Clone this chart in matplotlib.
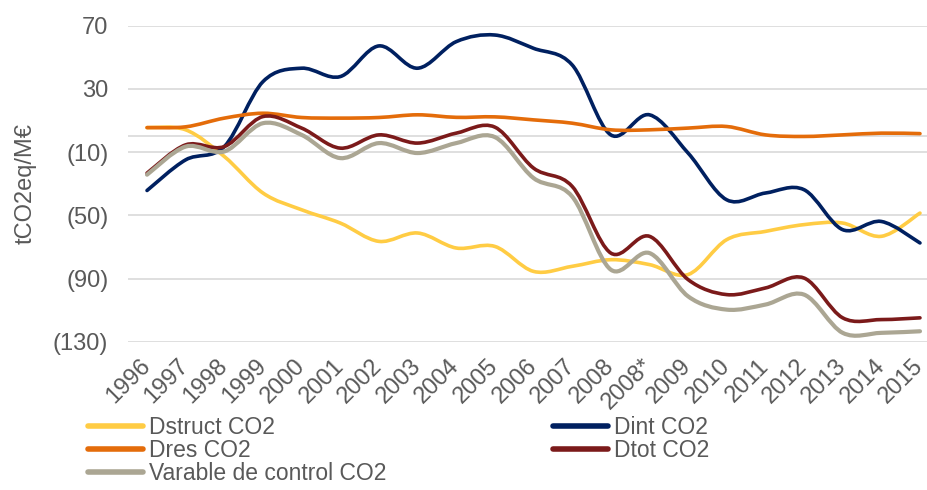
import numpy as np
import matplotlib
matplotlib.use("Agg")
import matplotlib.pyplot as plt
from matplotlib.path import Path
from matplotlib.patches import PathPatch
from matplotlib.lines import Line2D

plt.rcParams['font.family'] = ['Liberation Sans', 'DejaVu Sans']

# categories on the x axis
years = ["1996", "1997", "1998", "1999", "2000", "2001", "2002", "2003", "2004",
         "2005", "2006", "2007", "2008", "2008*", "2009", "2010", "2011", "2012",
         "2013", "2014", "2015"]

# values (tCO2eq/M€)
dstruct = [5.5, 4.1, -12.8, -35.9, -46.5, -54.9, -66.5, -61.2, -70.7, -69.7, -85.5,
           -82.3, -78.1, -81.2, -87.5, -65.4, -60.2, -55.9, -54.9, -63.3, -48.6]
dint = [-34.3, -14.9, -6.5, 34.6, 43.1, 37.8, 57.2, 43.1, 59.9, 64.1, 55.7,
        45.2, 0.9, 13.6, -10.6, -40.2, -35.9, -33.8, -59.1, -53.9, -67.5]
dres = [5.5, 6.0, 11.5, 14.6, 11.9, 11.5, 11.9, 13.6, 12.0, 12.3, 10.4,
        8.3, 4.1, 4.1, 5.2, 6.2, 0.9, -0.1, 0.9, 2.0, 1.7]
dtot = [-23.3, -5.4, -6.5, 12.5, 5.2, -7.5, 0.9, -4.3, 2.0, 5.8, -20.1,
        -31.7, -73.9, -63.3, -90.7, -100.2, -96.0, -89.7, -114.9, -116.0, -114.9]
control = [-24.3, -6.5, -9.6, 8.3, 0.9, -13.8, -4.3, -10.6, -4.3, -0.5, -26.4,
           -38.1, -84.4, -73.9, -101.3, -109.7, -106.5, -100.2, -124.4, -124.4, -123.4]

series = [
    ("Dstruct CO2", dstruct, "#FFCC44", 2.6),
    ("Dint CO2", dint, "#002060", 2.6),
    ("Dres CO2", dres, "#E46C0A", 2.6),
    ("Dtot CO2", dtot, "#7B1A1A", 2.6),
    ("Varable de control CO2", control, "#ABA693", 3.0),
]

text_col = "#595959"
grid_col = "#D9D9D9"
fs = 17


def smooth_path(xs, ys):
    # Excel-style smoothed line: cubic bezier segments through every point
    pts = np.column_stack([xs, ys]).astype(float)
    n = len(pts)
    verts = [pts[0]]
    codes = [Path.MOVETO]
    for i in range(n - 1):
        p0 = pts[i - 1] if i > 0 else pts[i]
        p1 = pts[i]
        p2 = pts[i + 1]
        p3 = pts[i + 2] if i + 2 < n else pts[i + 1]
        c1 = p1 + (p2 - p0) / 6.0
        c2 = p2 - (p3 - p1) / 6.0
        verts += [c1, c2, p2]
        codes += [Path.CURVE4] * 3
    return Path(verts, codes)


fig = plt.figure(figsize=(9.28, 4.90), dpi=100)
ax = fig.add_axes([127.7 / 928, 1 - 341.7 / 490, 811.6 / 928, 316 / 490])

x = np.arange(len(years))
handles = []
for name, vals, col, lw in series:
    patch = PathPatch(smooth_path(x, vals), facecolor="none", edgecolor=col,
                      lw=lw, capstyle="round", joinstyle="round", zorder=3)
    ax.add_patch(patch)
    handles.append(Line2D([], [], color=col, lw=4, solid_capstyle="round", label=name))

ax.set_xlim(-0.5, len(years) - 0.5)
ax.set_ylim(-130, 70)
ax.set_yticks([70, 30, -10, -50, -90, -130])
ax.set_yticklabels(["70", "30", "(10)", "(50)", "(90)", "(130)"])
ax.yaxis.grid(True, color=grid_col, lw=1.2)
ax.axhline(0, color=grid_col, lw=1.2, zorder=1)
ax.set_axisbelow(True)
for s in ax.spines.values():
    s.set_visible(False)

ax.set_xticks(x)
ax.set_xticklabels(years, rotation=45, ha="right", va="center", rotation_mode="anchor")
for lab in ax.get_xticklabels():
    lab.set_x(lab.get_position()[0])
ax.tick_params(axis="both", length=0, labelsize=fs, colors=text_col)
ax.tick_params(axis="y", pad=14)
ax.tick_params(axis="x", pad=15)
ax.set_ylabel("tCO2eq/M€", fontsize=fs, color=text_col, labelpad=12)

order = [0, 2, 4, 1, 3]
leg = fig.legend([handles[i] for i in order], [handles[i].get_label() for i in order],
                 loc="upper left", bbox_to_anchor=(88 / 928, 1 - 416 / 490),
                 ncol=2, frameon=False, fontsize=16.5, handlelength=2.4,
                 handletextpad=0.25, labelspacing=0.0, columnspacing=7.3,
                 borderpad=0, borderaxespad=0)
for t in leg.get_texts():
    t.set_color(text_col)

fig.savefig("out.png", dpi=100)
